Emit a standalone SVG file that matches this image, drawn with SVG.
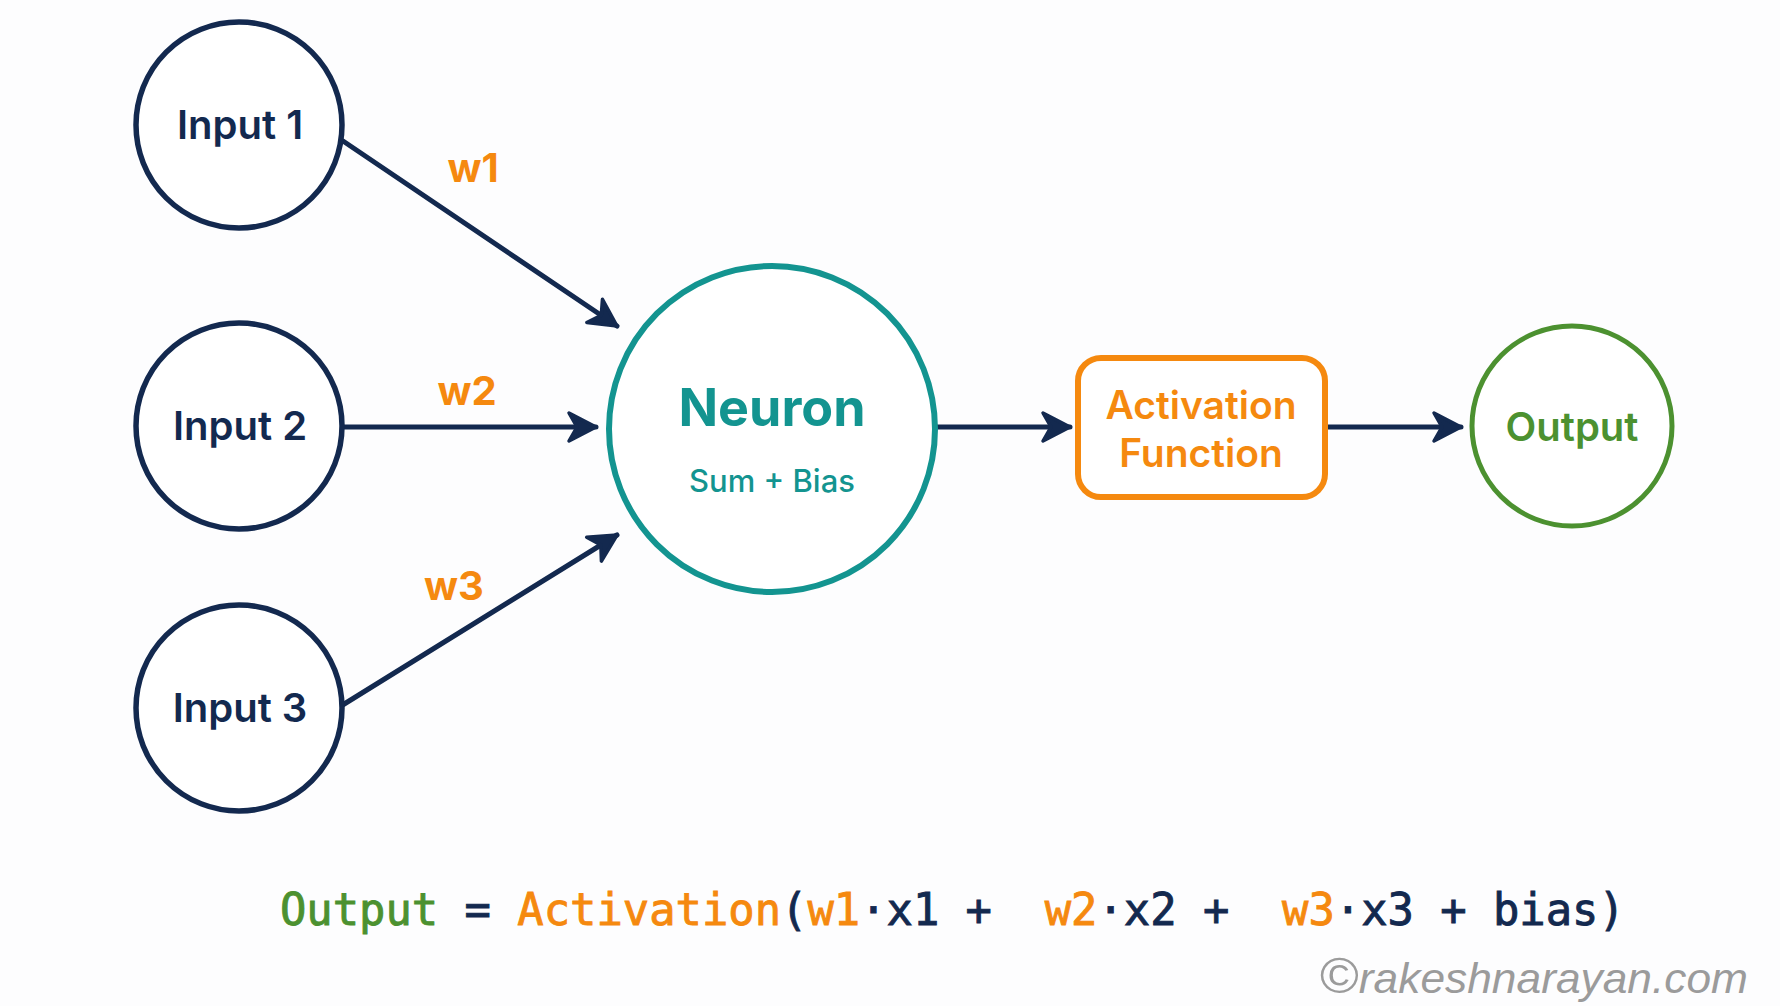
<svg xmlns="http://www.w3.org/2000/svg" width="1780" height="1006" viewBox="0 0 1780 1006">
<style>
.bg{fill:#fdfdfe}
.inp{fill:#ffffff;stroke:#13294f;stroke-width:5.5}
.lbl{font-family:Inter,"Noto Sans",sans-serif;text-anchor:middle}
.ink{fill:#13294f}
.or{fill:#f5890f}
.tl{fill:#139490}
.gr{fill:#4c9130}
.conn{stroke:#13294f;stroke-width:5;fill:none;stroke-linecap:round}
.mono{font-family:"DejaVu Sans Mono","Liberation Mono",monospace;font-size:43.8px;stroke-width:0.9px}
.mono .ink{stroke:#13294f}
.mono .or{stroke:#f5890f}
.mono .gr{stroke:#4c9130}
</style>
<defs>
<marker id="arr" markerUnits="userSpaceOnUse" markerWidth="40" markerHeight="40" refX="30" refY="16" orient="auto" viewBox="0 0 40 32">
<path d="M3,2 L30,16 L3,30 L11,16 Z" fill="#13294f" stroke="#13294f" stroke-width="3.5" stroke-linejoin="round"/>
</marker>
</defs>
<rect class="bg" x="0" y="0" width="1780" height="1006"/>
<g id="connectors">
<line class="conn" x1="343" y1="141" x2="617" y2="326" marker-end="url(#arr)"/>
<line class="conn" x1="341" y1="427" x2="596" y2="427" marker-end="url(#arr)"/>
<line class="conn" x1="341" y1="706" x2="617" y2="535" marker-end="url(#arr)"/>
<line class="conn" x1="936" y1="427" x2="1070" y2="427" marker-end="url(#arr)"/>
<line class="conn" x1="1326" y1="427" x2="1461" y2="427" marker-end="url(#arr)"/>
<text class="lbl or" x="473" y="182" font-size="40" font-weight="700">w1</text>
<text class="lbl or" x="467" y="405" font-size="40" font-weight="700">w2</text>
<text class="lbl or" x="454" y="600" font-size="40" font-weight="700">w3</text>
</g>
<g id="input1">
<circle class="inp" cx="239" cy="125" r="103"/>
<text class="lbl ink" x="240" y="139" font-size="40" font-weight="600">Input 1</text>
</g>
<g id="input2">
<circle class="inp" cx="239" cy="426" r="103"/>
<text class="lbl ink" x="240" y="440" font-size="40" font-weight="600">Input 2</text>
</g>
<g id="input3">
<circle class="inp" cx="239" cy="708" r="103"/>
<text class="lbl ink" x="240" y="722" font-size="40" font-weight="600">Input 3</text>
</g>
<g id="neuron">
<circle cx="772" cy="429" r="163" fill="#ffffff" stroke="#139490" stroke-width="6"/>
<text class="lbl tl" x="772" y="426" font-size="52" font-weight="700">Neuron</text>
<text class="lbl tl" x="772" y="492" font-size="31" font-weight="500">Sum + Bias</text>
</g>
<g id="activation">
<rect x="1078" y="358" width="247" height="139" rx="23" fill="#ffffff" stroke="#f5890f" stroke-width="6"/>
<text class="lbl or" x="1201" y="419" font-size="39" font-weight="600">Activation</text>
<text class="lbl or" x="1201" y="467" font-size="39" font-weight="600">Function</text>
</g>
<g id="output">
<circle cx="1572" cy="426" r="100" fill="#ffffff" stroke="#4c9130" stroke-width="5"/>
<text class="lbl gr" x="1572" y="441" font-size="40" font-weight="600">Output</text>
</g>
<g id="formula">
<text class="mono" x="280" y="925" xml:space="preserve"><tspan class="gr">Output</tspan><tspan class="ink"> = </tspan><tspan class="or">Activation</tspan><tspan class="ink">(</tspan><tspan class="or">w1</tspan><tspan class="ink">·x1 +  </tspan><tspan class="or">w2</tspan><tspan class="ink">·x2 +  </tspan><tspan class="or">w3</tspan><tspan class="ink">·x3 + bias)</tspan></text>
</g>
<g id="watermark">
<text x="1320" y="993" font-family="'Liberation Sans',Arimo,sans-serif" font-style="italic" font-size="42" fill="#9b9b9b" textLength="428" lengthAdjust="spacingAndGlyphs"><tspan font-style="normal" font-size="50">©</tspan>rakeshnarayan.com</text>
</g>
</svg>
